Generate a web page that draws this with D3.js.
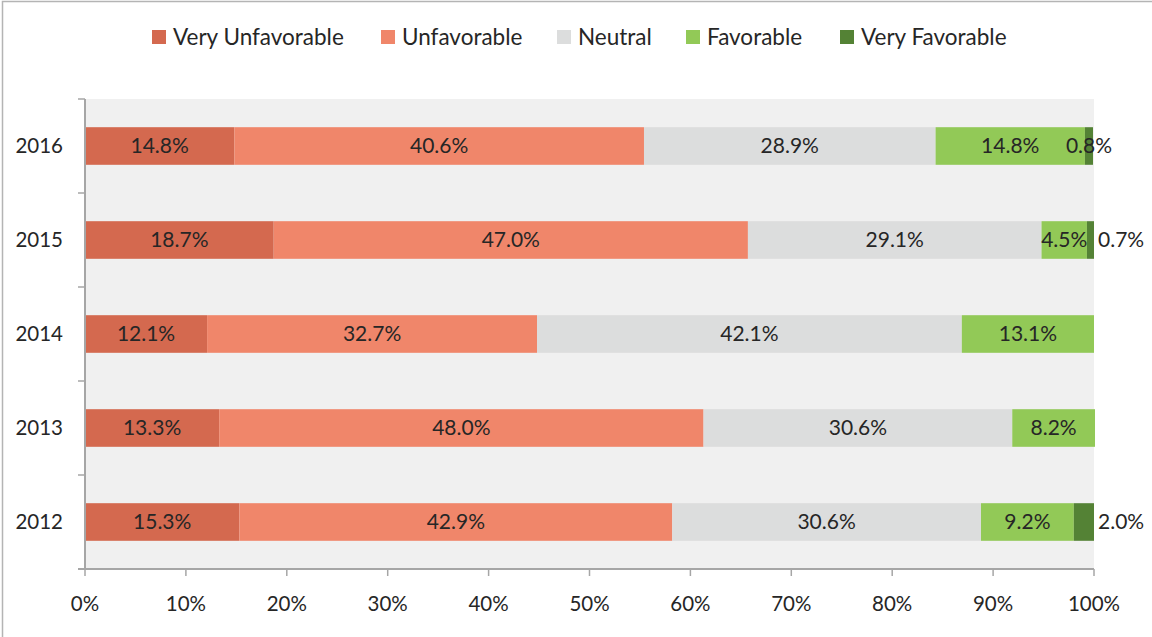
<!DOCTYPE html>
<html><head><meta charset="utf-8">
<script src="https://cdn.jsdelivr.net/npm/d3@7"></script>
<style>
body{margin:0;background:#fff;}
text{font-family:Lato, "Open Sans", sans-serif;fill:#262626;}
</style></head>
<body><svg id="c" width="1152" height="637"></svg>
<script>
const years = ["2016","2015","2014","2013","2012"];
const seriesNames = ["Very Unfavorable","Unfavorable","Neutral","Favorable","Very Favorable"];
const veryUnfavorable = [14.8,18.7,12.1,13.3,15.3];
const unfavorable = [40.6,47.0,32.7,48.0,42.9];
const neutral = [28.9,29.1,42.1,30.6,30.6];
const favorable = [14.8,4.5,13.1,8.2,9.2];
const veryFavorable = [0.8,0.7,0,0,2.0];
const colors = ["#d4694f","#f0866a","#dcdddd","#92c957","#548235"];
const xTicks = [0,10,20,30,40,50,60,70,80,90,100];
// label placement for very favorable: "center" or "outside"
const vfLabelPos = ["center","outside","none","none","outside"];

const svg = d3.select("#c");
// outer border
svg.append("path").attr("d","M2.5,637 V1.5 H1152").attr("fill","none").attr("stroke","#b4b4b4").attr("stroke-width",1.5);

const pL=85, pR=1094, pT=99, pB=569;
const x = d3.scaleLinear().domain([0,100]).range([pL,pR]);
const y = d3.scaleBand().domain(years).range([pT,pB]).paddingInner(0.6).paddingOuter(0.3);
const band = d3.scaleBand().domain(years).range([pT,pB]);

svg.append("rect").attr("x",pL).attr("y",pT).attr("width",pR-pL).attr("height",pB-pT).attr("fill","#f0f0f0");

const allSeries=[veryUnfavorable,unfavorable,neutral,favorable,veryFavorable];
const rows = years.map((yr,i)=>{const o={year:yr}; seriesNames.forEach((s,j)=>o[s]=allSeries[j][i]); return o;});
const stack = d3.stack().keys(seriesNames)(rows);

const g = svg.append("g");
stack.forEach((layer,j)=>{
  layer.forEach((d,i)=>{
    const v = d[1]-d[0];
    if(v<=0) return;
    g.append("rect").attr("x",x(d[0])).attr("y",y(years[i])).attr("width",x(d[1])-x(d[0])).attr("height",y.bandwidth())
      .attr("fill",colors[j]);
  });
});
stack.forEach((layer,j)=>{
  layer.forEach((d,i)=>{
    const v = allSeries[j][i];
    if(v<=0) return;
    let lx = (x(d[0])+x(d[1]))/2, anchor="middle";
    if(j===4 && vfLabelPos[i]==="outside"){lx = x(d[1])+4; anchor="start";}
    g.append("text").attr("x",lx).attr("y",y(years[i])+y.bandwidth()/2).attr("dy","0.35em")
      .attr("text-anchor",anchor).attr("font-size",21).text(v.toFixed(1)+"%");
  });
});

// axes
const axisColor="#a6a6a6";
svg.append("line").attr("x1",pL).attr("x2",pL).attr("y1",pT).attr("y2",pB).attr("stroke",axisColor).attr("stroke-width",2);
svg.append("line").attr("x1",pL-7).attr("x2",pR).attr("y1",pB).attr("y2",pB).attr("stroke",axisColor).attr("stroke-width",2);
years.forEach(yr=>{
  svg.append("line").attr("x1",pL-7).attr("x2",pL).attr("y1",band(yr)).attr("y2",band(yr)).attr("stroke",axisColor).attr("stroke-width",1.5);
  svg.append("text").attr("x",63).attr("y",band(yr)+band.bandwidth()/2).attr("dy","0.35em").attr("text-anchor","end").attr("font-size",20.5).text(yr);
});
xTicks.forEach(t=>{
  svg.append("line").attr("x1",x(t)).attr("x2",x(t)).attr("y1",pB).attr("y2",pB+7).attr("stroke",axisColor).attr("stroke-width",1.5);
  svg.append("text").attr("x",x(t)).attr("y",604).attr("dy","0.35em").attr("text-anchor","middle").attr("font-size",20.5).text(t+"%");
});

// legend
const legX=[152,381,557,686,840];
seriesNames.forEach((s,j)=>{
  svg.append("rect").attr("x",legX[j]).attr("y",30).attr("width",14).attr("height",14).attr("fill",colors[j]);
  svg.append("text").attr("x",legX[j]+21).attr("y",37).attr("dy","0.35em").attr("font-size",22.5).text(s);
});
</script></body></html>
